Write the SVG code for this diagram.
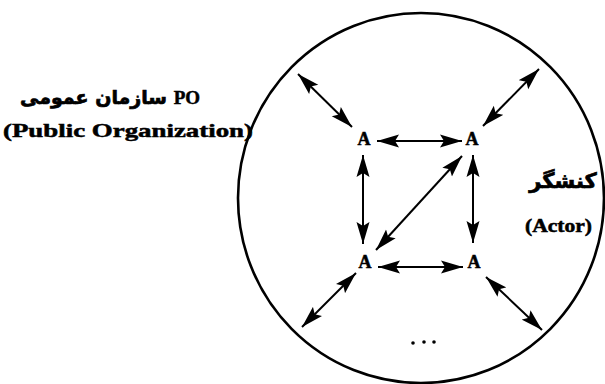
<svg xmlns="http://www.w3.org/2000/svg" width="605" height="384" viewBox="0 0 605 384">
<style>
.lat{font-family:"Liberation Serif","Times New Roman",serif;font-weight:bold;fill:#000;stroke:#000;stroke-width:0.5}
.fa{font-family:"DejaVu Sans","Noto Sans",sans-serif;font-weight:bold;fill:#000;stroke:#000;stroke-width:0.7}
.node{font-size:18px;text-anchor:middle}
.arr{stroke:#000;stroke-width:2;fill:none;marker-start:url(#ah);marker-end:url(#ah)}
</style>
<defs>
<marker id="ah" markerUnits="userSpaceOnUse" markerWidth="24" markerHeight="14" viewBox="0 0 24 14" refX="22" refY="7" orient="auto-start-reverse">
<path d="M0,0.5 L22,7 L0,13.5 L4,7 Z" fill="#000"/>
</marker>
</defs>
<rect width="605" height="384" fill="#fff"/>
<g id="organization">
<ellipse cx="421" cy="198" rx="183" ry="185" fill="none" stroke="#000" stroke-width="2.6"/>
</g>
<g id="label-po">
<text class="fa" x="110" y="104" font-size="19" text-anchor="middle">سازمان عمومی <tspan class="lat">PO</tspan></text>
<text class="lat" x="3" y="137" font-size="19" textLength="250" lengthAdjust="spacingAndGlyphs">(Public Organization)</text>
</g>
<g id="label-actor">
<text class="fa" x="563" y="188" font-size="21" text-anchor="middle">کنشگر</text>
<text class="lat" x="525" y="232" font-size="18" textLength="67" lengthAdjust="spacingAndGlyphs">(Actor)</text>
</g>
<g id="node-tl"><text class="lat node" x="364" y="145">A</text></g>
<g id="node-tr"><text class="lat node" x="472" y="145">A</text></g>
<g id="node-bl"><text class="lat node" x="365" y="268">A</text></g>
<g id="node-br"><text class="lat node" x="474" y="268">A</text></g>
<g id="connectors">
<line class="arr" x1="377" y1="141" x2="462" y2="141"/>
<line class="arr" x1="378" y1="267" x2="463" y2="267"/>
<line class="arr" x1="363" y1="155" x2="363" y2="244"/>
<line class="arr" x1="473" y1="155" x2="473" y2="243"/>
<line class="arr" x1="462" y1="156" x2="376" y2="250"/>
<line class="arr" x1="298" y1="74" x2="352" y2="127"/>
<line class="arr" x1="539" y1="69" x2="483" y2="126"/>
<line class="arr" x1="356" y1="273" x2="302" y2="327"/>
<line class="arr" x1="486" y1="277" x2="542" y2="330"/>
</g>
<g id="ellipsis">
<circle cx="413" cy="343" r="1.8"/>
<circle cx="424" cy="342" r="1.8"/>
<circle cx="434" cy="342" r="1.8"/>
</g>
</svg>
